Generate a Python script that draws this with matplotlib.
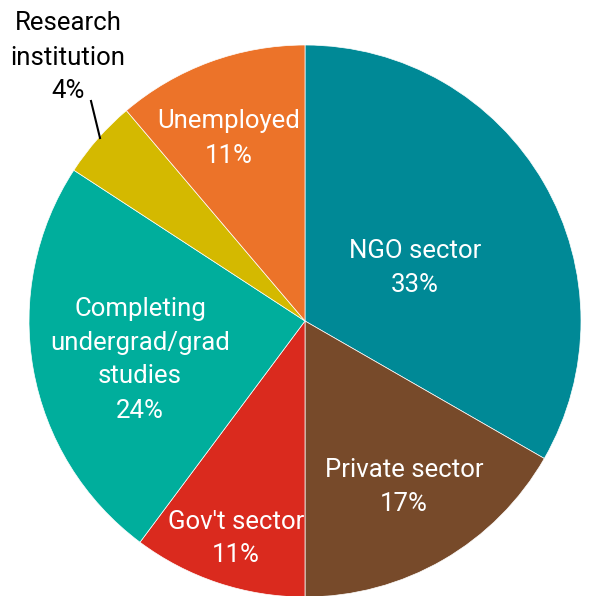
import matplotlib
matplotlib.use("Agg")
import matplotlib.pyplot as plt

# 数据
labels = ["NGO sector", "Private sector", "Gov't sector",
          "Completing\nundergrad/grad\nstudies", "Research\ninstitution", "Unemployed"]
values = [33.3, 16.7, 10.2, 24.0, 4.6, 11.2]
pct_text = ["33%", "17%", "11%", "24%", "4%", "11%"]
colors = ["#008996", "#774A2A", "#DA2A1E", "#00AE9C", "#D4B900", "#EC7329"]

W, H = 590, 596
CX, CY, R = 305, 321, 276

def px(x, y):
    # 像素坐标 -> 数据坐标
    return (x - CX) / R, (CY - y) / R

fig = plt.figure(figsize=(W / 100, H / 100), dpi=100)
ax = fig.add_axes([0, 0, 1, 1])
ax.pie(values, colors=colors, startangle=90, counterclock=False, radius=1,
       wedgeprops=dict(edgecolor="white", linewidth=0.5))
ax.set_aspect("auto")
ax.set_xlim(-CX / R, (W - CX) / R)
ax.set_ylim(-(H - CY) / R, CY / R)
ax.axis("off")

# 标签位置 (中心x, 每行基线y)
label_pos = [
    (415, [258, 292]),
    (404, [477, 511]),
    (236, [529, 562]),
    (140, [316, 350, 383, 418]),
    (68, [30, 65, 98]),
    (229, [128, 163]),
]
font = dict(family=["Roboto", "DejaVu Sans"], fontsize=18.5)
for i, (lab, pct) in enumerate(zip(labels, pct_text)):
    lines = lab.split("\n") + [pct]
    x, ys = label_pos[i]
    c = "black" if i == 4 else "white"
    for line, y in zip(lines, ys):
        tx, ty = px(x, y)
        ax.text(tx, ty, line, ha="center", va="baseline", color=c, **font)

# 引线
x0, y0 = px(91, 101)
x1, y1 = px(100, 138)
ax.plot([x0, x1], [y0, y1], color="black", lw=1.5)

fig.savefig("out.png", dpi=100)
